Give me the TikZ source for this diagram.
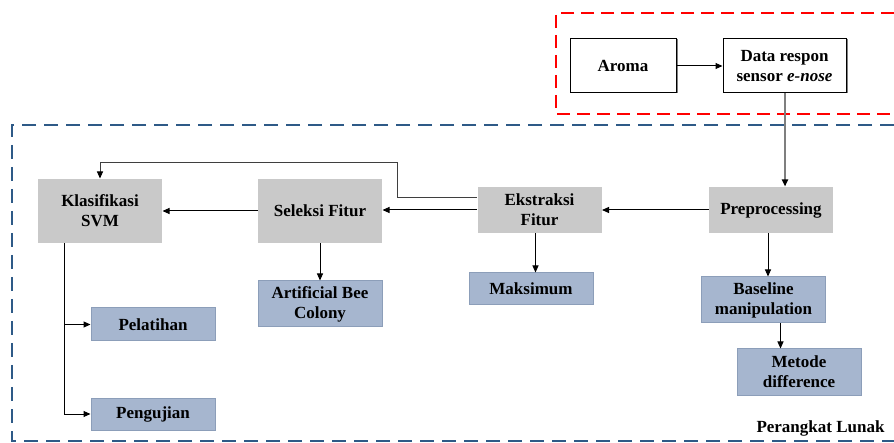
\documentclass[tikz,border=0pt]{standalone}
\usepackage{fontspec}
\setmainfont{Liberation Serif}
\usetikzlibrary{arrows.meta, shadows}
\definecolor{cbox}{HTML}{C9C9C9}
\definecolor{csub}{HTML}{A6B6CF}
\definecolor{csubedge}{HTML}{8C9EB9}
\definecolor{cframe}{HTML}{2E5A87}
\definecolor{clink}{HTML}{7F7F7F}
\definecolor{cdark}{HTML}{3F3F3F}
\tikzset{
  every picture/.style={font=\bfseries\fontsize{17}{20}\selectfont, line width=1pt},
  hwbox/.style={draw=black, fill=white, align=center, minimum width=#1, minimum height=54pt,
    drop shadow={shadow xshift=1.6pt, shadow yshift=0pt, fill=clink, opacity=1}},
  procbox/.style={fill=cbox, align=center, minimum width=124pt, minimum height=#1},
  procbox/.default=46pt,
  subbox/.style={fill=csub, draw=csubedge, align=center, minimum width=124pt, minimum height=#1},
  subbox/.default=46pt,
  arrow/.style={-{Triangle[length=7pt, width=6pt, color=black]}, draw=black, line width=1pt},
  greyarrow/.style={arrow, draw=clink, line width=2pt},
  frame/.style={draw=#1, line width=2pt, dash pattern=on 14pt off 8pt},
}

\begin{document}
\begin{tikzpicture}[x=1pt, y=-1pt]
  \useasboundingbox (0,0) rectangle (894,443);
  % dashed frames
  \draw[frame=red, dash pattern=on 13pt off 7pt] (894,13) -- (556,13) -- (556,114) -- (894,114);
  \draw[frame=cframe] (894,125) -- (12,125) -- (12,441) -- (894,441);
  \node[anchor=east, inner sep=0pt] (lunak) at (885,428) {Perangkat Lunak};
  % hardware part
  \node[hwbox=106pt] (aroma) at (623,66) {Aroma};
  \node[hwbox=123pt] (data) at (784.5,66) {Data respon\\sensor \textit{e-nose}};
  % software part
  \node[procbox] (prep) at (771,210) {Preprocessing};
  \node[procbox] (ekstr) at (539.5,210) {Ekstraksi\\Fitur};
  \node[procbox=64pt] (seleksi) at (320,211) {Seleksi Fitur};
  \node[procbox=64pt] (klas) at (100,211) {Klasifikasi\\SVM};
  \node[subbox] (base) at (763.5,300) {Baseline\\manipulation};
  \node[subbox] (metode) at (799,372) {Metode\\difference};
  \node[subbox=32pt] (maks) at (531,289) {Maksimum};
  \node[subbox] (abc) at (320,304) {Artificial Bee\\Colony};
  \node[subbox=33pt] (latih) at (153,324.5) {Pelatihan};
  \node[subbox=32pt] (uji) at (153,414) {Pengujian};
  % connectors
  \draw[arrow] (aroma) -- (data);
  \draw[greyarrow] (data.south -| 785,0) -- (prep.north -| 785,0);
  \draw[arrow] (prep) -- (ekstr);
  \draw[arrow] (ekstr.west) -- (ekstr.west -| seleksi.east);
  \draw[arrow] (seleksi) -- (klas);
  \draw[arrow, draw=cdark] ([yshift=12pt]ekstr.west) -- ++(-80,0) |- ([yshift=16pt]klas.north) -- (klas.north);
  \draw[arrow] ([xshift=-4pt]ekstr.south) -- ([xshift=-4pt]ekstr.south |- maks.north);
  \draw[arrow] (seleksi) -- (abc);
  \draw[arrow] ([xshift=-3pt]prep.south) -- ([xshift=-3pt]prep.south |- base.north);
  \draw[arrow] ([xshift=17pt]base.south) -- ([xshift=17pt]base.south |- metode.north);
  \draw[arrow] ([xshift=-36pt]klas.south) |- (uji.west);
  \draw[arrow] ([xshift=-36pt]klas.south) |- (latih.west);
\end{tikzpicture}
\end{document}
